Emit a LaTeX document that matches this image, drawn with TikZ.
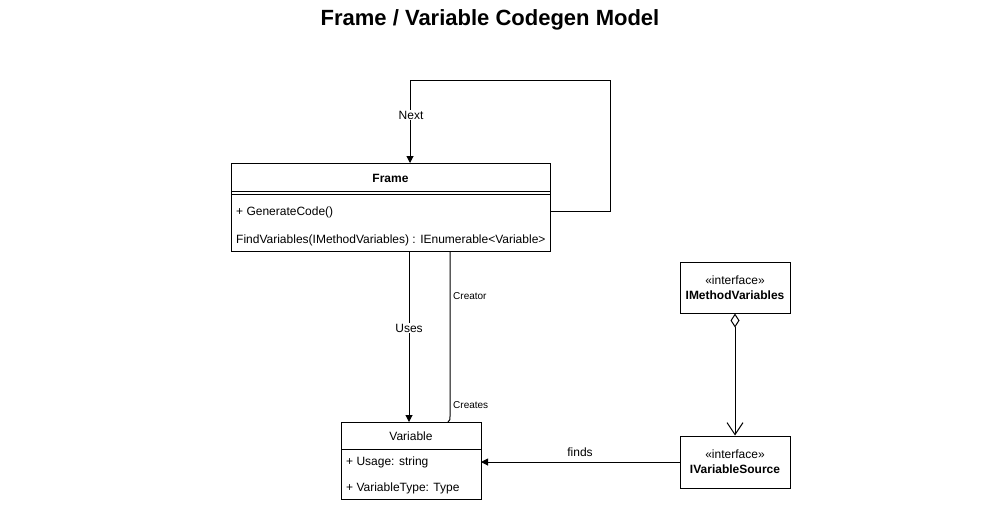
\documentclass[tikz,border=0pt]{standalone}
\usepackage{fontspec}
\setmainfont{Liberation Sans}
\usetikzlibrary{arrows.meta}
\begin{document}
\begin{tikzpicture}[x=1pt,y=-1pt,
  box/.style={draw,line width=1pt,fill=white},
  txt/.style={font=\fontsize{12}{14}\selectfont,inner sep=0pt},
  small/.style={font=\fontsize{10}{12}\selectfont,inner sep=0pt},
  conn/.style={line width=1pt},
  lbl/.style={fill=white,inner sep=1pt,font=\fontsize{12}{14}\selectfont}]
\useasboundingbox (0,0) rectangle (981,504);
\node[font=\fontsize{22}{26}\selectfont\bfseries] (title) at (490,20) {Frame / Variable Codegen Model};
% Frame
\draw[box] (231,163) rectangle (550,251);
\coordinate (frameTop) at (410,163);
\coordinate (frameR) at (550,211);
\draw[line width=1pt] (231,191) -- (550,191);
\draw[line width=1pt] (231,194) -- (550,194);
\node[txt,font=\fontsize{12}{14}\selectfont\bfseries] (frame) at (390.5,178) {Frame};
\node[txt,anchor=west] (gc) at (236,212) {+ GenerateCode()};
\node[txt,anchor=west] (fv) at (236,240) {FindVariables(IMethodVariables) : IEnumerable<Variable>};
% Variable
\draw[box] (341,422) rectangle (481,499);
\draw[line width=1pt] (341,449) -- (481,449);
\node[txt] (var) at (411,436) {Variable};
\node[txt,anchor=west] (usage) at (346,462) {+ Usage: string};
\node[txt,anchor=west] (vt) at (346,488) {+ VariableType: Type};
% interfaces
\node[box,minimum width=110pt,minimum height=51pt,align=center,font=\fontsize{12}{15}\selectfont,inner sep=0pt] (imv) at (735,287.5) {«interface»\\\textbf{IMethodVariables}};
\node[box,minimum width=110pt,minimum height=52pt,align=center,font=\fontsize{12}{15}\selectfont,inner sep=0pt] (ivs) at (735,462) {«interface»\\\textbf{IVariableSource}};
% Next loop
\draw[conn,-{Triangle[length=7pt,width=7pt]}] (frameR) -- (610,211) -- (610,80) -- (410,80) -- (frameTop);
\node[lbl] (next) at (411,115) {Next};
% Uses
\coordinate (usesS) at (409,251);
\coordinate (usesE) at (409,422);
\draw[conn,-{Triangle[length=7pt,width=7pt]}] (usesS) -- (usesE);
\node[lbl] (uses) at (409,328) {Uses};
% Creator
\coordinate (crS) at (450,251);
\coordinate (crE) at (448,422);
\draw[conn] (crS) -- (450,416) .. controls (450,420) .. (crE);
\node[small,anchor=west] (creator) at (453,296) {Creator};
\node[small,anchor=west] (creates) at (453,405) {Creates};
% aggregation
\draw[conn,{Diamond[open,length=14pt,width=9pt]}-{Straight Barb[length=12pt,width=16pt]}] (imv.south) -- (ivs.north);
% finds
\coordinate (varR) at (481,462);
\draw[conn,-{Triangle[length=7pt,width=7pt]}] (ivs.west) -- (varR);
\node[txt] (finds) at (580,452) {finds};
\end{tikzpicture}
\end{document}
